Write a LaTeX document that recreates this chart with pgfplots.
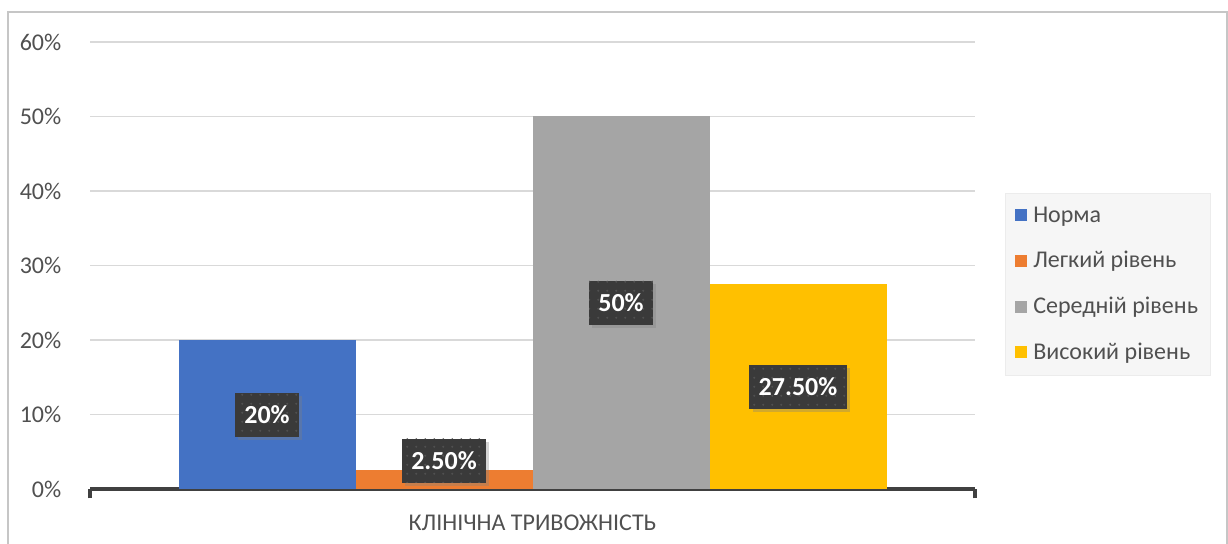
\documentclass[border=0pt]{standalone}
\usepackage{pgfplots}
\pgfplotsset{compat=1.18}
\usepackage{fontspec}
\setmainfont{Carlito}
\usetikzlibrary{patterns.meta,shadows}
\definecolor{cBlue}{HTML}{4472C4}
\definecolor{cOrange}{HTML}{ED7D31}
\definecolor{cGray}{HTML}{A5A5A5}
\definecolor{cYellow}{HTML}{FFC000}
\definecolor{txt}{HTML}{505050}
\definecolor{grid}{HTML}{D9D9D9}
\definecolor{axl}{HTML}{404040}
\definecolor{lblbg}{HTML}{3A3A3A}
\definecolor{lbldot}{HTML}{505050}
\begin{document}
\begin{tikzpicture}
\useasboundingbox (0,0) rectangle (921pt,407.25pt);
\draw[gray!45, line width=0.9pt] (6pt,-2pt) -- (6pt,398.25pt) -- (920.25pt,398.25pt) -- (920.25pt,-2pt);
\begin{axis}[
  at={(67.5pt,40.5pt)}, anchor=south west,
  scale only axis, width=663.75pt, height=335.25pt,
  xmin=0, xmax=5, ymin=0, ymax=60,
  ybar, bar width=1,
  every axis plot/.append style={/pgf/bar shift=0pt, draw=none},
  axis lines*=left,
  y axis line style={draw=none},
  x axis line style={draw=axl, line width=2.6pt},
  xtick={0,5}, xticklabels={},
  x tick style={draw=axl, line width=2.6pt},
  tick align=outside, major tick length=7pt,
  ytick={0,10,...,60},
  y tick style={draw=none},
  yticklabel={\pgfmathprintnumber{\tick}\%},
  yticklabel style={font=\fontsize{18}{21}\selectfont, text=txt, xshift=-11pt},
  /pgf/number format/assume math mode=true,
  ymajorgrids, grid style={draw=grid, line width=0.8pt},
  xlabel={КЛІНІЧНА ТРИВОЖНІСТЬ},
  xlabel style={at={(axis description cs:0.5,0)}, anchor=center, yshift=-25pt, font=\fontsize{18}{21}\selectfont, text=txt},
  legend style={at={(1.0339,0.662)}, anchor=north west, fill=gray!7, draw=gray!15,
    font=\fontsize{18}{21}\selectfont, text=txt, cells={anchor=west},
    inner xsep=7pt, inner ysep=8pt, row sep=16.5pt,
    /tikz/every odd column/.append style={column sep=3pt}},
  legend image code/.code={\fill[#1] (0pt,-4.5pt) rectangle (9pt,4.5pt);},
  clip=false,
]
\addplot[fill=cBlue] coordinates {(1,20)};
\addplot[fill=cOrange] coordinates {(2,2.5)};
\addplot[fill=cGray] coordinates {(3,50)};
\addplot[fill=cYellow] coordinates {(4,27.5)};
\legend{Норма, Легкий рівень, Середній рівень, Високий рівень}
\tikzset{lbl/.style={fill=lblbg, postaction={pattern={Dots[distance=6.5pt,radius=0.9pt]}, pattern color=lbldot},
  drop shadow={shadow xshift=2.5pt, shadow yshift=-2.5pt, opacity=0.35},
  text=white, font=\bfseries\fontsize{19.5}{22}\selectfont, minimum height=33pt, inner xsep=7pt}}
\node[lbl] at (axis cs:1,10) {20\%};
\node[lbl] at (axis cs:2,3.76) {2.50\%};
\node[lbl] at (axis cs:3,25) {50\%};
\node[lbl] at (axis cs:4,13.75) {27.50\%};
\end{axis}
\end{tikzpicture}
\end{document}
